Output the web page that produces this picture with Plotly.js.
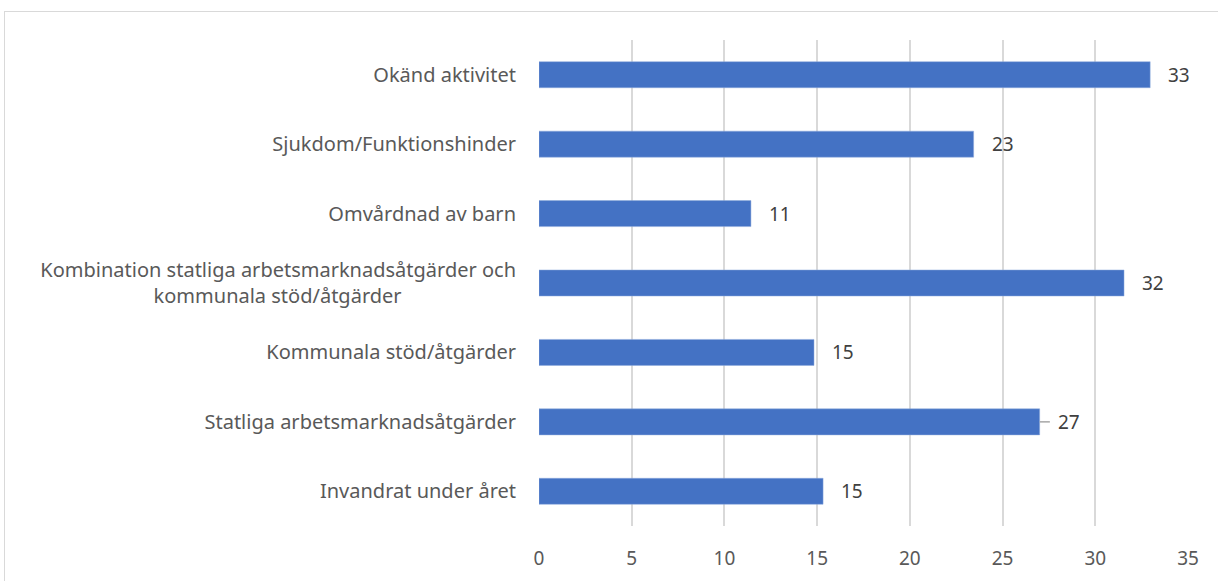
<!DOCTYPE html>
<html>
<head>
<meta charset="utf-8">
<script src="https://cdn.plot.ly/plotly-3.0.1.min.js"></script>
<style>
  body { margin: 0; overflow: hidden; background: #fff; }
  #frame { position: absolute; left: 4px; top: 11px; width: 1240px; height: 600px; border: 1px solid #d9d9d9; }
  #plot { position: absolute; left: 0; top: 0; width: 1218px; height: 581px; }
</style>
</head>
<body>
<div id="frame"></div>
<div id="plot"></div>
<script>
var categories = [
  'Okänd aktivitet',
  'Sjukdom/Funktionshinder',
  'Omvårdnad av barn',
  'Kombination statliga arbetsmarknadsåtgärder och<br>kommunala stöd/åtgärder' + '\u00a0'.repeat(22),
  'Kommunala stöd/åtgärder',
  'Statliga arbetsmarknadsåtgärder',
  'Invandrat under året'
];
var values = [32.96, 23.44, 11.43, 31.55, 14.83, 27.0, 15.32];
var labels = ['33', '23', '11', '32', '15', '27', '15'];

var trace = {
  type: 'bar',
  orientation: 'h',
  y: categories,
  x: values,
  width: 0.375,
  marker: {color: '#4472c4', line: {color: '#8faadc', width: 0.5}},
  hoverinfo: 'none'
};

var annotations = values.map(function (v, i) {
  return {
    x: v, y: categories[i], xref: 'x', yref: 'y',
    text: labels[i], showarrow: false,
    xanchor: 'left', xshift: 16,
    font: {family: 'Noto Sans, sans-serif', size: 19, color: '#404040'}
  };
});

var layout = {
  width: 1218,
  height: 581,
  margin: {l: 539, r: 30, t: 40, b: 55},
  paper_bgcolor: 'rgba(0,0,0,0)',
  plot_bgcolor: 'rgba(0,0,0,0)',
  showlegend: false,
  font: {family: 'Noto Sans, sans-serif', size: 20, color: '#595959'},
  xaxis: {
    range: [0, 35],
    dtick: 5,
    showgrid: true,
    gridcolor: '#d9d9d9',
    gridwidth: 2,
    zeroline: false,
    showline: false,
    ticks: '',
    ticklabelstandoff: 19,
    tickfont: {size: 19},
    fixedrange: true
  },
  yaxis: {
    autorange: 'reversed',
    showgrid: false,
    zeroline: false,
    showline: false,
    ticks: '',
    ticklabelstandoff: 22,
    fixedrange: true
  },
  annotations: annotations,
  shapes: [{
    type: 'line', xref: 'x', yref: 'y',
    x0: values[5], x1: values[5] + 0.55, y0: categories[5], y1: categories[5],
    line: {color: '#a6a6a6', width: 1.5}
  }]
};

Plotly.newPlot('plot', [trace], layout, {displayModeBar: false, staticPlot: true});
</script>
</body>
</html>
